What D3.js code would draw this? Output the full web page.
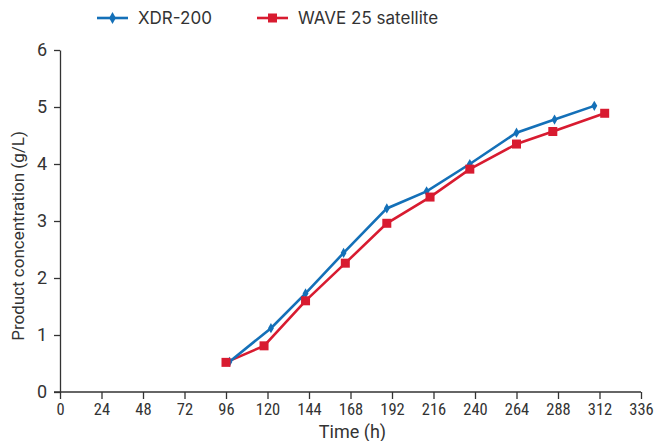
<!DOCTYPE html>
<html>
<head>
<meta charset="utf-8">
<script src="https://cdn.jsdelivr.net/npm/d3@7"></script>
<style>
  html, body { margin: 0; padding: 0; background: #fff; }
  svg { display: block; }
  .tick text { fill: #333; }
  .xax .tick text { font-family: "Liberation Sans Narrow", "Roboto Condensed", Roboto, sans-serif; }
  .yax .tick text { font-family: Roboto, "Liberation Sans", sans-serif; }
  .title { fill: #333; }
  .legend text { font-family: Inter, Roboto, sans-serif; fill: #333; }
</style>
</head>
<body>
<svg id="chart" width="656" height="441"></svg>
<script>
// Sampling times (h) and product concentration (g/L) for each bioreactor
const xdrTime = [98, 122, 142, 164, 189, 212, 237, 264, 286, 309];
const xdrConc = [0.53, 1.12, 1.73, 2.44, 3.22, 3.52, 4.00, 4.55, 4.78, 5.02];
const waveTime = [96, 118, 142, 165, 189, 214, 237, 264, 285, 315];
const waveConc = [0.52, 0.81, 1.60, 2.26, 2.96, 3.42, 3.91, 4.35, 4.57, 4.89];

const xTicks = [0, 24, 48, 72, 96, 120, 144, 168, 192, 216, 240, 264, 288, 312, 336];
const yTicks = [0, 1, 2, 3, 4, 5, 6];

const seriesNames = ["XDR-200", "WAVE 25 satellite"];
const seriesColors = ["#1470b8", "#d81b30"];

const svg = d3.select("#chart");
const margin = { left: 60, right: 15, top: 50, bottom: 49 };
const W = 656, H = 441;

const x = d3.scaleLinear().domain([0, 336]).range([margin.left, W - margin.right]);
const y = d3.scaleLinear().domain([0, 6]).range([H - margin.bottom, margin.top]);

// Axes
const xAxis = svg.append("g").attr("class", "xax")
  .attr("transform", `translate(0,${y(0)})`)
  .call(d3.axisBottom(x).tickValues(xTicks).tickSize(7).tickSizeOuter(0).tickPadding(4));
const yAxis = svg.append("g").attr("class", "yax")
  .attr("transform", `translate(${x(0)},0)`)
  .call(d3.axisLeft(y).tickValues(yTicks).tickFormat(d3.format("d"))
    .tickSize(6).tickSizeOuter(0).tickPadding(7));

[xAxis, yAxis].forEach(g => {
  g.select(".domain").attr("stroke", "#333").attr("stroke-width", 1.3);
  g.selectAll(".tick line").attr("stroke", "#333").attr("stroke-width", 1.3);
});
xAxis.selectAll(".tick text").attr("font-size", 16.5);
yAxis.selectAll(".tick text").attr("font-size", 18);
// extend x axis line slightly left under the y=0 tick
xAxis.select(".domain").attr("d", `M${x(0) - 6},0H${x(336)}`);

// Axis titles
svg.append("text").attr("class", "title")
  .attr("font-family", "'Liberation Sans Narrow', Roboto, sans-serif")
  .attr("x", (x(0) + x(336)) / 2 + 2).attr("y", 438)
  .attr("text-anchor", "middle").attr("font-size", 18)
  .text("Time (h)");
svg.append("text").attr("class", "title")
  .attr("font-family", "Roboto, 'Liberation Sans', sans-serif")
  .attr("transform", `translate(24,${(y(0) + y(6)) / 2 + 15}) rotate(-90)`)
  .attr("text-anchor", "middle").attr("font-size", 17)
  .text("Product concentration (g/L)");

// Series
const line = d3.line().x(d => x(d[0])).y(d => y(d[1]));
const xdrData = d3.zip(xdrTime, xdrConc);
const waveData = d3.zip(waveTime, waveConc);

svg.append("path").datum(waveData)
  .attr("d", line).attr("fill", "none")
  .attr("stroke", seriesColors[1]).attr("stroke-width", 2.6);
svg.append("path").datum(xdrData)
  .attr("d", line).attr("fill", "none")
  .attr("stroke", seriesColors[0]).attr("stroke-width", 2.6);

const diamond = d3.symbol().type(d3.symbolDiamond).size(30);
svg.append("g").selectAll("path").data(xdrData).join("path")
  .attr("transform", d => `translate(${x(d[0])},${y(d[1])})`)
  .attr("d", diamond).attr("fill", seriesColors[0]);

svg.append("g").selectAll("rect").data(waveData).join("rect")
  .attr("x", d => x(d[0]) - 4.5).attr("y", d => y(d[1]) - 4.5)
  .attr("width", 9).attr("height", 9).attr("fill", seriesColors[1]);

// Legend
const legend = svg.append("g").attr("class", "legend");
const lx = [97, 257];
seriesNames.forEach((name, i) => {
  const g = legend.append("g").attr("transform", `translate(${lx[i]},18)`);
  g.append("line").attr("x1", 0).attr("x2", 31).attr("y1", 0).attr("y2", 0)
    .attr("stroke", seriesColors[i]).attr("stroke-width", 2.6);
  if (i === 0) {
    g.append("path").attr("transform", "translate(15.5,0)")
      .attr("d", d3.symbol().type(d3.symbolDiamond).size(40)).attr("fill", seriesColors[i]);
  } else {
    g.append("rect").attr("x", 11).attr("y", -4.5).attr("width", 9).attr("height", 9)
      .attr("fill", seriesColors[i]);
  }
  g.append("text").attr("x", 41).attr("y", 6).attr("font-size", 17).text(name);
});
</script>
</body>
</html>
